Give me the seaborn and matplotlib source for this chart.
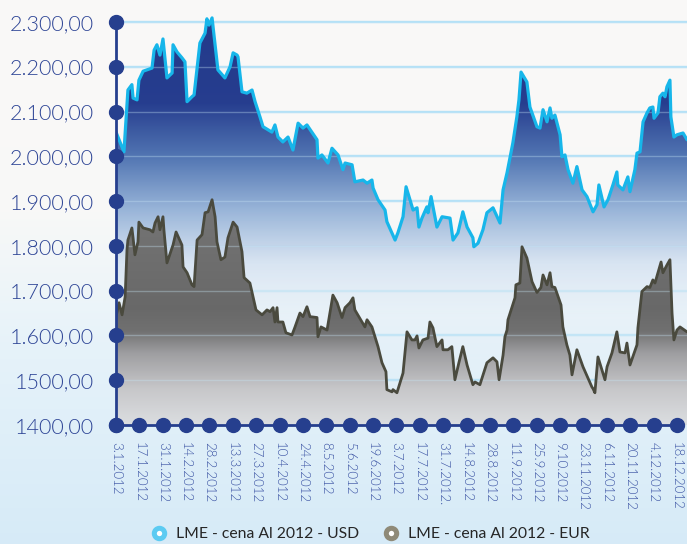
import numpy as np
import pandas as pd
import matplotlib.pyplot as plt
import seaborn as sns
from matplotlib.lines import Line2D

# --- data (positions are fractional index along the date axis) ---
dates = ['3.1.2012', '17.1.2012', '31.1.2012', '14.2.2012', '28.2.2012', '13.3.2012',
         '27.3.2012', '10.4.2012', '24.4.2012', '8.5.2012', '5.6.2012', '19.6.2012',
         '3.7.2012', '17.7.2012', '31.7.2012.', '14.8.2012', '28.8.2012', '11.9.2012',
         '25.9.2012', '9.10.2012', '23.11.2012', '6.11.2012', '20.11.2012', '4.12.2012',
         '18.12.2012']
y_ticks = [1400, 1500, 1600, 1700, 1800, 1900, 2000, 2100, 2200, 2300]
y_labels = ['1400,00', '1500,00', '1.600,00', '1.700,00', '1.800,00', '1.900,00',
            '2.000,00', '2.100,00', '2.200,00', '2.300,00']

usd_pos = [0.0, 0.34, 0.51, 0.68, 0.73, 0.90, 0.98, 1.16, 1.54, 1.63, 1.75, 1.88, 2.01, 2.18,
           2.40, 2.44, 2.61, 2.82, 2.95, 3.04, 3.25, 3.34, 3.59, 3.81, 3.89, 3.98, 4.11, 4.36,
           4.66, 4.88, 5.01, 5.18, 5.22, 5.39, 5.60, 5.82, 5.95, 6.16, 6.29, 6.67, 6.80, 6.93,
           7.14, 7.36, 7.57, 7.79, 8.00, 8.17, 8.60, 8.64, 8.81, 9.07, 9.24, 9.50, 9.71, 9.80,
           10.10, 10.22, 10.57, 10.74, 10.95, 11.00, 11.21, 11.51, 11.59, 11.94, 12.06, 12.28,
           12.41, 12.58, 12.71, 12.88, 12.96, 13.09, 13.30, 13.35, 13.48, 13.73, 13.95, 14.29,
           14.42, 14.63, 14.84, 15.02, 15.27, 15.31, 15.49, 15.70, 15.87, 16.13, 16.43, 16.56,
           16.73, 16.98, 17.15, 17.24, 17.33, 17.58, 17.71, 18.01, 18.14, 18.27, 18.44, 18.57,
           18.65, 18.78, 19.00, 19.08, 19.21, 19.34, 19.55, 19.72, 19.94, 20.15, 20.41, 20.58,
           20.66, 20.88, 21.05, 21.26, 21.43, 21.47, 21.69, 21.90, 21.99, 22.20, 22.29, 22.42,
           22.55, 22.72, 22.84, 22.97, 23.02, 23.19, 23.27, 23.40, 23.49, 23.57, 23.70, 23.74,
           23.87, 24.00, 24.26, 24.43]
usd_val = [2054, 2010, 2148, 2160, 2130, 2126, 2170, 2190, 2197, 2237, 2249, 2226, 2262, 2175,
           2186, 2249, 2233, 2220, 2211, 2122, 2133, 2137, 2253, 2275, 2307, 2293, 2309, 2193,
           2175, 2200, 2231, 2226, 2222, 2144, 2141, 2148, 2122, 2088, 2066, 2054, 2070, 2043,
           2032, 2043, 2014, 2074, 2063, 2070, 2037, 1996, 2003, 1985, 2018, 2003, 1970, 1985,
           1981, 1943, 1947, 1940, 1947, 1929, 1903, 1880, 1854, 1813, 1829, 1865,
           1932, 1903, 1880, 1885, 1842, 1862, 1887, 1874, 1910, 1842, 1865, 1862,
           1813, 1829, 1876, 1842, 1818, 1798, 1806, 1836, 1874, 1885, 1851, 1925,
           1963, 2030, 2088, 2126, 2188, 2166, 2110, 2066, 2063, 2104, 2077, 2108,
           2085, 2092, 2048, 1999, 2003, 1970, 1940, 1977, 1925, 1910, 1876, 1892,
           1936, 1887, 1903, 1936, 1965, 1936, 1925, 1954, 1921, 1970, 2007, 2010,
           2077, 2097, 2108, 2110, 2085, 2097, 2133, 2141, 2133, 2155, 2170, 2088,
           2043, 2048, 2052, 2037]

eur_pos = [0.0, 0.13, 0.26, 0.39, 0.47, 0.51, 0.68, 0.73, 0.81, 0.94, 0.98, 1.16, 1.45, 1.58,
           1.67, 1.80, 1.88, 2.01, 2.05, 2.18, 2.40, 2.44, 2.57, 2.82, 2.87, 3.04, 3.25, 3.34,
           3.47, 3.68, 3.81, 3.94, 4.11, 4.24, 4.32, 4.49, 4.66, 4.79, 5.01, 5.18, 5.39, 5.48,
           5.73, 5.99, 6.25, 6.46, 6.59, 6.72, 6.80, 6.89, 6.93, 7.14, 7.27, 7.53, 7.66, 7.87,
           8.00, 8.17, 8.30, 8.60, 8.64, 8.77, 9.03, 9.16, 9.28, 9.46, 9.67, 9.80, 10.01, 10.14,
           10.22, 10.65, 10.74, 10.95, 11.21, 11.38, 11.55, 11.59, 11.81, 11.85, 12.02, 12.28,
           12.45, 12.66, 12.79, 12.88, 12.96, 13.13, 13.35, 13.43, 13.56, 13.73, 13.95, 13.99,
           14.20, 14.37, 14.50, 14.67, 14.84, 15.02, 15.27, 15.36, 15.57, 15.87, 16.13, 16.30,
           16.39, 16.56, 16.64, 16.73, 16.77, 17.07, 17.11, 17.28, 17.37, 17.58, 17.80, 18.01,
           18.18, 18.27, 18.44, 18.57, 18.65, 18.78, 19.04, 19.12, 19.29, 19.42, 19.51, 19.72,
           19.98, 20.28, 20.36, 20.41, 20.49, 20.62, 20.92, 21.01, 21.22, 21.43, 21.56, 21.78,
           21.86, 21.99, 22.29, 22.33, 22.50, 22.72, 22.84, 22.97, 23.06, 23.32, 23.40, 23.57,
           23.70, 23.79, 23.87, 24.00, 24.13, 24.43]
eur_val = [1642, 1673, 1646, 1686, 1791, 1813, 1840, 1818, 1780, 1809, 1853, 1840, 1836, 1831,
           1851, 1865, 1836, 1865, 1836, 1762, 1796, 1802, 1831, 1802, 1753, 1740, 1713, 1709,
           1813, 1825, 1874, 1876, 1903, 1865, 1809, 1769, 1775, 1818, 1853, 1842, 1787, 1729,
           1717, 1657, 1646, 1657, 1653, 1662, 1630, 1662, 1630, 1630, 1606, 1601, 1619, 1650,
           1642, 1664, 1642, 1640, 1597, 1619, 1612, 1653, 1690, 1673, 1640, 1662, 1673, 1684,
           1657, 1619, 1635, 1619, 1575, 1539, 1519, 1479, 1474, 1479, 1472, 1516,
           1608, 1590, 1590, 1599, 1572, 1590, 1594, 1630, 1617, 1575, 1590, 1568,
           1568, 1575, 1501, 1539, 1575, 1534, 1490, 1496, 1490, 1539, 1550, 1541,
           1501, 1556, 1597, 1612, 1635, 1684, 1713, 1717, 1798, 1773, 1720, 1696,
           1707, 1735, 1713, 1740, 1709, 1707, 1668, 1619, 1579, 1556, 1512, 1568,
           1530, 1494, 1485, 1481, 1472, 1552, 1501, 1530, 1561, 1608, 1563, 1561,
           1583, 1534, 1579, 1617, 1698, 1709, 1707, 1724, 1717, 1764, 1740, 1757,
           1769, 1650, 1590, 1612, 1619, 1608]

series_names = ['LME - cena Al 2012 - USD', 'LME - cena Al 2012 - EUR']

df_usd = pd.DataFrame({'pos': usd_pos, 'val': usd_val})
df_eur = pd.DataFrame({'pos': eur_pos, 'val': eur_val})

navy = '#263f8e'
label_blue = '#2e4596'
usd_line = '#17b6ea'
eur_line = '#4a4a3e'

sns.set_style("white")
plt.rcParams['font.family'] = ['Lato', 'DejaVu Sans']

fig = plt.figure(figsize=(6.87, 5.44), dpi=100)

# figure background gradient (off-white at top -> light blue at bottom)
bg = fig.add_axes([0, 0, 1, 1], zorder=0)
bg_stops = [0.0, 0.35, 0.62, 1.0]
bg_cols = [(0.84, 0.92, 0.97), (0.90, 0.95, 0.98), (0.975, 0.975, 0.97), (0.98, 0.976, 0.969)]
fy = np.linspace(0, 1, 300)
bg_img = np.stack([np.interp(fy, bg_stops, [c[i] for c in bg_cols]) for i in range(3)], axis=-1)[:, None, :]
bg.imshow(bg_img, extent=[0, 1, 0, 1], origin='lower', aspect='auto')
bg.axis('off')

ax = fig.add_axes([116 / 687, 119 / 544, 571 / 687, 425 / 544], zorder=1)
ax.set_facecolor('none')
xmax = 24.43
ymin, ymax = 1400, 2349
ax.set_xlim(0, xmax)
ax.set_ylim(ymin, ymax)


def vgrad(stops, cols, n=400):
    v = np.linspace(ymin, ymax, n)
    arr = np.stack([np.interp(v, stops, [c[i] for c in cols]) for i in range(4)], axis=-1)
    return arr[:, None, :]


# grid lines
for yv in y_ticks[1:]:
    ax.axhline(yv, color='#b4e1f6', lw=1.7, zorder=1)

# USD gradient area
usd_poly = ax.fill_between(df_usd['pos'], df_usd['val'], ymin, facecolor='none', edgecolor='none')
usd_img = ax.imshow(vgrad([1400, 1640, 1760, 1880, 2000, 2120, 2349],
                          [(0.86, 0.92, 0.97, 0.0), (0.90, 0.94, 0.97, 0.4), (0.84, 0.89, 0.95, 0.9),
                           (0.60, 0.71, 0.85, 1), (0.32, 0.46, 0.70, 1), (0.15, 0.24, 0.56, 1),
                           (0.14, 0.23, 0.54, 1)]),
                    extent=[0, xmax, ymin, ymax], origin='lower', aspect='auto', zorder=2)
usd_img.set_clip_path(usd_poly.get_paths()[0], ax.transData)

# EUR gradient area
eur_poly = ax.fill_between(df_eur['pos'], df_eur['val'], ymin, facecolor='none', edgecolor='none')
eur_img = ax.imshow(vgrad([1400, 1480, 1560, 1610, 1660, 1900, 2349],
                          [(0.86, 0.87, 0.88, 1), (0.78, 0.78, 0.79, 1), (0.62, 0.62, 0.63, 1),
                           (0.44, 0.44, 0.44, 1), (0.41, 0.41, 0.41, 1), (0.46, 0.46, 0.46, 1),
                           (0.46, 0.46, 0.46, 1)]),
                    extent=[0, xmax, ymin, ymax], origin='lower', aspect='auto', zorder=3)
eur_img.set_clip_path(eur_poly.get_paths()[0], ax.transData)

# faint grid showing through the areas
for yv in y_ticks[1:]:
    ax.axhline(yv, color='#c8e6f6', lw=1.0, alpha=0.35, zorder=3.5)

sns.lineplot(data=df_usd, x='pos', y='val', ax=ax, color=usd_line, lw=2.3, zorder=4,
             estimator=None, sort=False)
sns.lineplot(data=df_eur, x='pos', y='val', ax=ax, color=eur_line, lw=2.0, zorder=5,
             estimator=None, sort=False)

# axis lines with dots
ax.plot([0, 0], [ymin, y_ticks[-1]], color=navy, lw=2, clip_on=False, zorder=6)
ax.plot([0, len(dates) - 1], [ymin, ymin], color=navy, lw=2, clip_on=False, zorder=6)
ax.plot([0] * len(y_ticks), y_ticks, 'o', color=navy, ms=10, clip_on=False, zorder=7)
ax.plot(range(len(dates)), [ymin] * len(dates), 'o', color=navy, ms=10, clip_on=False, zorder=7)

for s in ax.spines.values():
    s.set_visible(False)
ax.set_yticks(y_ticks)
ax.set_yticklabels(y_labels, fontsize=15.5, color=label_blue, fontweight=300)
ax.set_xticks(range(len(dates)))
ax.set_xticklabels(dates, rotation=-90, fontsize=9.5, color='#3a52a3', ha='center', va='top',
                   fontweight=300)
ax.tick_params(axis='y', length=0, pad=16)
ax.tick_params(axis='x', length=0, pad=12)
ax.set_xlabel('')
ax.set_ylabel('')

# legend
handles = [Line2D([], [], marker='o', ls='', ms=7.5, mfc='white', mec='#5ccbf2', mew=3.6),
           Line2D([], [], marker='o', ls='', ms=7.5, mfc='white', mec='#8f8a78', mew=3.6)]
fig.legend(handles, series_names, loc='center left', bbox_to_anchor=(137 / 687, 1 - 534 / 544),
           ncol=2, frameon=False, handletextpad=0.6, columnspacing=1.5, handlelength=1.0,
           prop={'family': ['Lato', 'DejaVu Sans'], 'size': 11.3})

fig.savefig('out.png', dpi=100)
